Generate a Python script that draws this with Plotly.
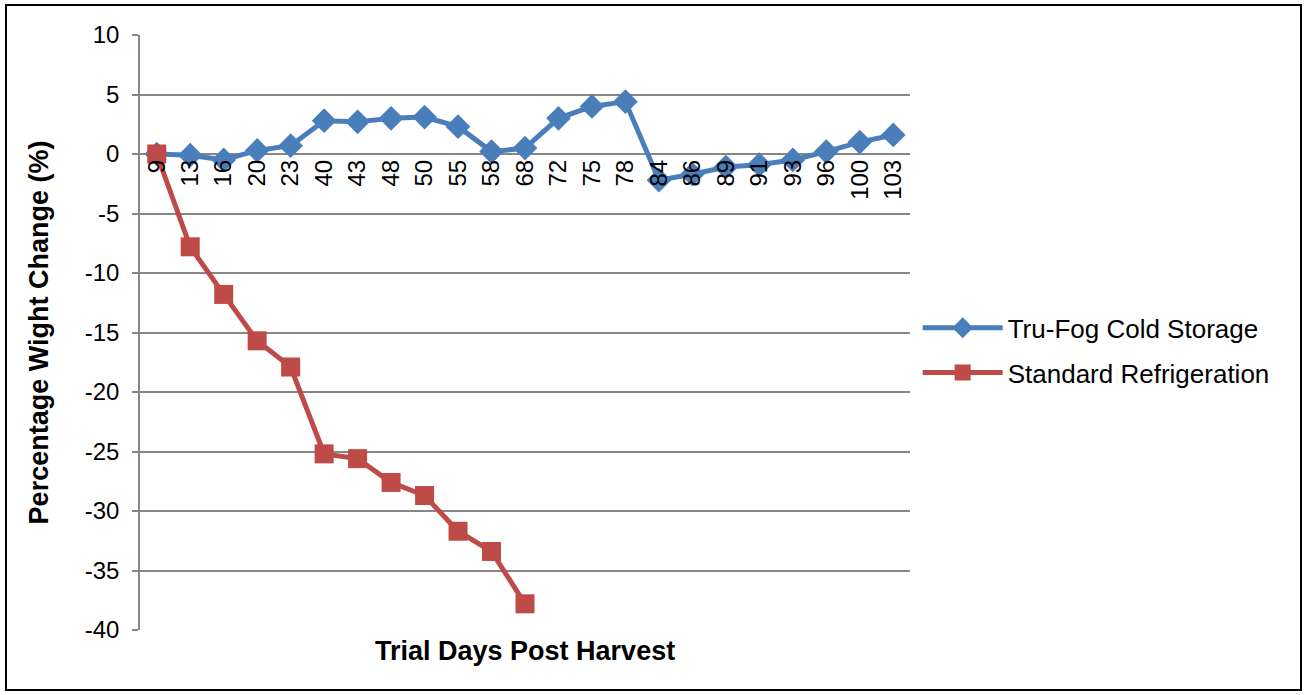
import plotly.graph_objects as go

days = ["9", "13", "16", "20", "23", "40", "43", "48", "50", "55", "58", "68",
        "72", "75", "78", "84", "86", "89", "91", "93", "96", "100", "103"]
trufog = [0.0, -0.1, -0.5, 0.3, 0.7, 2.8, 2.7, 3.0, 3.1, 2.3, 0.2, 0.5,
          3.0, 4.0, 4.4, -2.2, -1.7, -1.1, -0.9, -0.5, 0.2, 1.0, 1.6]
std_days = ["9", "13", "16", "20", "23", "40", "43", "48", "50", "55", "58", "68"]
standard = [0.0, -7.8, -11.8, -15.7, -17.9, -25.2, -25.6, -27.6, -28.7, -31.7, -33.4, -37.8]
y_ticks = [10, 5, 0, -5, -10, -15, -20, -25, -30, -35, -40]
y_tick_text = ["10", "5", "0", "-5", "-10", "-15", "-20", "-25", "-30", "-35", "-40"]

FONT = "Liberation Sans, Arial, sans-serif"
GRID = "#868686"

fig = go.Figure()
fig.add_trace(go.Scatter(
    x=days, y=trufog, mode="lines+markers", name="Tru-Fog Cold Storage",
    line=dict(color="#4A7EBB", width=5),
    marker=dict(symbol="diamond", size=19, color="#4A7EBB"),
    legendgroup="a"))
fig.add_trace(go.Scatter(
    x=std_days, y=standard, mode="lines+markers", name="Standard Refrigeration",
    line=dict(color="#BE4B48", width=5),
    marker=dict(symbol="square", size=19, color="#BE4B48"),
    legendgroup="b"))

fig.update_layout(
    width=1305, height=695,
    margin=dict(l=140, r=395, t=35, b=65),
    paper_bgcolor="white", plot_bgcolor="white",
    font=dict(family=FONT, size=24, color="black"),
    showlegend=True,
    legend=dict(x=1.01, y=0.47, xanchor="left", yanchor="middle",
                font=dict(size=26), traceorder="grouped", tracegroupgap=8,
                bgcolor="rgba(0,0,0,0)", itemwidth=80),
    xaxis=dict(type="category", categoryorder="array", categoryarray=days,
               range=[-0.5, 22.5], showgrid=False, showline=False, zeroline=False,
               ticks="", tickangle=-90, anchor="free", position=0.8,
               tickfont=dict(size=24)),
    yaxis=dict(range=[-40, 10], tickvals=y_ticks, ticktext=y_tick_text,
               showgrid=True, gridcolor=GRID, gridwidth=1.5,
               zeroline=True, zerolinecolor=GRID, zerolinewidth=1.5,
               showline=True, linecolor=GRID, linewidth=1.5,
               ticks="outside", ticklen=6, tickcolor=GRID, tickwidth=1.5,
               ticklabelstandoff=8,
               title=dict(text="<b>Percentage Wight Change (%)</b>", standoff=28,
                          font=dict(size=27))),
    annotations=[dict(text="<b>Trial Days Post Harvest</b>", xref="paper", yref="paper",
                      x=0.5, y=(630 - 651) / 595, xanchor="center", yanchor="middle",
                      showarrow=False, font=dict(size=27))],
    shapes=[dict(type="rect", xref="paper", yref="paper",
                 x0=(6 - 140) / 770, x1=(1301 - 140) / 770,
                 y0=(630 - 690) / 595, y1=(630 - 5) / 595,
                 line=dict(color="black", width=2), layer="below")],
)

fig.write_html("out.html", config={"displayModeBar": False},
               post_script="document.body.style.margin='0px';")
